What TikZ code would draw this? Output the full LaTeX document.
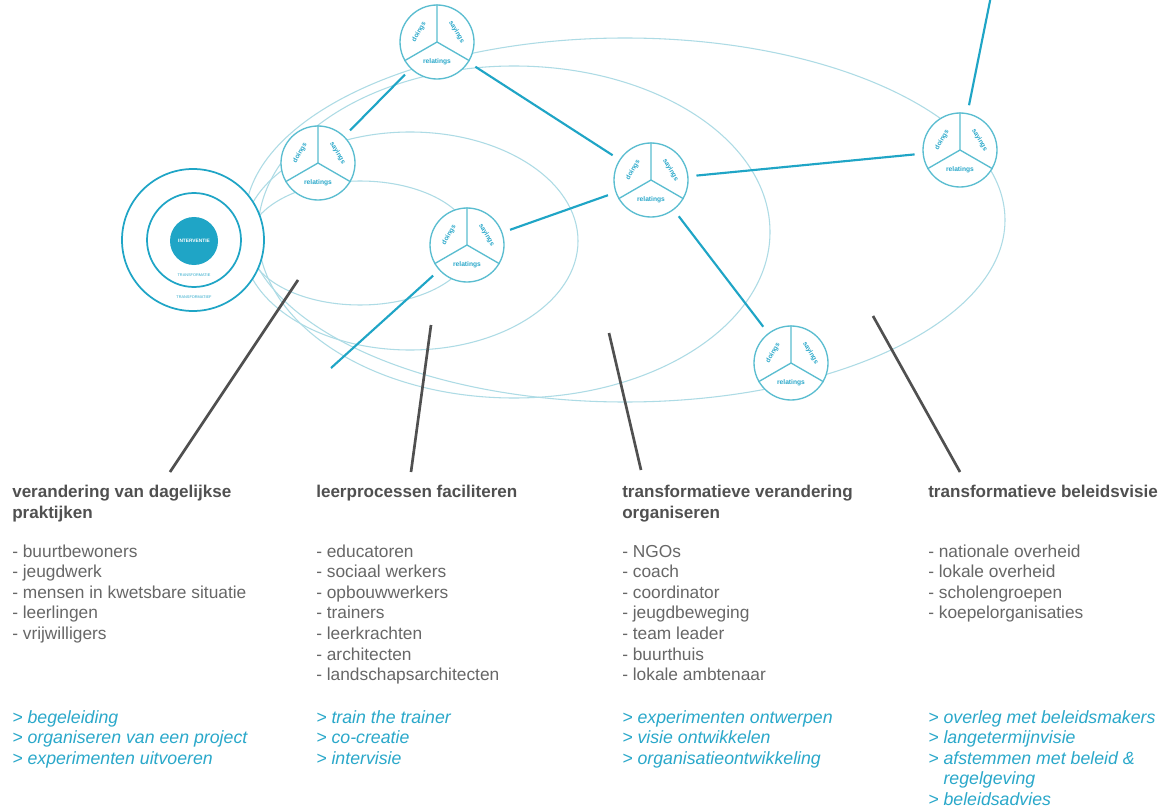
\documentclass[tikz,border=0pt]{standalone}
\usepackage{fontspec}
\setmainfont{Liberation Sans}
\definecolor{tealA}{HTML}{1FA5C6}
\definecolor{tealB}{HTML}{5ABDD0}
\definecolor{tealC}{HTML}{ADDBE5}
\definecolor{tealT}{HTML}{2AA8CA}
\definecolor{grayH}{HTML}{505050}
\definecolor{grayL}{HTML}{676767}
\definecolor{grayLine}{HTML}{505050}
\newcommand{\tricircle}[3]{%
  \node[tri] (#1) at (#2,#3) {};
  \draw[triline] (#1.center) -- (#1.90) (#1.center) -- (#1.210) (#1.center) -- (#1.330);
  \node[trilabel, rotate=60] (#1-d) at (#2-18,#3-10) {doings};
  \node[trilabel, rotate=-60] (#1-s) at (#2+19.5,#3-10) {sayings};
  \node[trilabel] (#1-r) at (#2,#3+20) {relatings};
}
\begin{document}
\begin{tikzpicture}[x=0.75pt,y=-0.75pt,
  ell/.style={draw=tealC, line width=0.8pt},
  tri/.style={circle, draw=tealB, line width=1pt, fill=white, minimum size=55.5pt, inner sep=0pt},
  triline/.style={draw=tealB, line width=1pt},
  trilabel/.style={text=tealT, font=\bfseries\fontsize{5}{6}\selectfont, inner sep=0pt},
  conn/.style={draw=tealA, line width=1.6pt, shorten <=6pt, shorten >=6pt},
  pointer/.style={draw=grayLine, line width=2pt},
  head/.style={anchor=base west, inner sep=0pt, text=grayH, font=\bfseries\fontsize{12.8}{15}\selectfont},
  listtxt/.style={anchor=base west, inner sep=0pt, text=grayL, font=\fontsize{13}{15}\selectfont},
  acttxt/.style={anchor=base west, inner sep=0pt, text=tealT, font=\itshape\fontsize{13.3}{15}\selectfont}
]
\useasboundingbox (0,0) rectangle (1169,809);
\fill[white] (0,0) rectangle (1169,809);

% nested ellipses
\draw[ell] (625,220) ellipse [x radius=285pt, y radius=136.5pt];
\draw[ell] (514,232) ellipse [x radius=192pt, y radius=124.5pt];
\draw[ell] (410,241) ellipse [x radius=126pt, y radius=81.75pt];
\draw[ell] (360,243) ellipse [x radius=84pt, y radius=46.5pt];

% intervention circle
\node[circle, draw=tealA, line width=1.3pt, fill=white, minimum size=106.5pt, inner sep=0pt] (outer) at (193,240) {};
\node[circle, draw=tealA, line width=1.3pt, fill=white, minimum size=70.5pt, inner sep=0pt] (middle) at (194,240) {};
\node[circle, fill=tealA, minimum size=36pt, inner sep=0pt, text=white, font=\bfseries\fontsize{3.6}{4}\selectfont] (inner) at (194,241) {INTERVENTIE};
\node[text=tealT, font=\fontsize{2.9}{3}\selectfont, inner sep=0pt] (tlabel1) at (194,275) {TRANSFORMATIE};
\node[text=tealT, font=\fontsize{2.9}{3}\selectfont, inner sep=0pt] (tlabel2) at (194,297) {TRANSFORMATIEF};

% practice circles
\tricircle{c1}{437}{42}
\tricircle{c2}{318}{163}
\tricircle{c3}{651}{180}
\tricircle{c4}{467}{245}
\tricircle{c5}{960}{150}
\tricircle{c6}{791}{363}

% connectors
\coordinate (topend) at (991,-4);
\coordinate (lowend) at (331,368);
\draw[conn] (c1) -- (c2);
\draw[conn] (c1) -- (c3);
\draw[conn] (c3) -- (c4);
\draw[conn] (c3) -- (c5);
\draw[conn] (c3) -- (c6);
\draw[conn, shorten >=0pt] (c5) -- (topend);
\draw[conn, shorten >=0pt] (c4) -- (lowend);

% pointers
\coordinate (p1a) at (298,280); \coordinate (p1b) at (170,472);
\coordinate (p2a) at (431,325); \coordinate (p2b) at (411,472);
\coordinate (p3a) at (609,333); \coordinate (p3b) at (641,470);
\coordinate (p4a) at (873,316); \coordinate (p4b) at (960,472);
\draw[pointer] (p1a) -- (p1b);
\draw[pointer] (p2a) -- (p2b);
\draw[pointer] (p3a) -- (p3b);
\draw[pointer] (p4a) -- (p4b);

% column 1
\node[head] (h1a) at (12,497) {verandering van dagelijkse};
\node[head] (h1b) at (12,518) {praktijken};
\foreach \t [count=\i] in {buurtbewoners, jeugdwerk, mensen in kwetsbare situatie, leerlingen, vrijwilligers}
  \node[listtxt] (l1-\i) at (12,536.4+20.6*\i) {- \t};
\foreach \t [count=\i] in {begeleiding, organiseren van een project, experimenten uitvoeren}
  \node[acttxt] (a1-\i) at (12,702.5+20.5*\i) {> \t};

% column 2
\node[head] (h2a) at (316,497) {leerprocessen faciliteren};
\foreach \t [count=\i] in {educatoren, sociaal werkers, opbouwwerkers, trainers, leerkrachten, architecten, landschapsarchitecten}
  \node[listtxt] (l2-\i) at (316,536.4+20.6*\i) {- \t};
\foreach \t [count=\i] in {train the trainer, co-creatie, intervisie}
  \node[acttxt] (a2-\i) at (316,702.5+20.5*\i) {> \t};

% column 3
\node[head] (h3a) at (622,497) {transformatieve verandering};
\node[head] (h3b) at (622,518) {organiseren};
\foreach \t [count=\i] in {NGOs, coach, coordinator, jeugdbeweging, team leader, buurthuis, lokale ambtenaar}
  \node[listtxt] (l3-\i) at (622,536.4+20.6*\i) {- \t};
\foreach \t [count=\i] in {experimenten ontwerpen, visie ontwikkelen, organisatieontwikkeling}
  \node[acttxt] (a3-\i) at (622,702.5+20.5*\i) {> \t};

% column 4
\node[head] (h4a) at (928,497) {transformatieve beleidsvisie};
\foreach \t [count=\i] in {nationale overheid, lokale overheid, scholengroepen, koepelorganisaties}
  \node[listtxt] (l4-\i) at (928,536.4+20.6*\i) {- \t};
\foreach \t [count=\i] in {{> overleg met beleidsmakers}, {> langetermijnvisie}, {> afstemmen met beleid \&}, {\phantom{> }regelgeving}, {> beleidsadvies}}
  \node[acttxt] (a4-\i) at (928,702.5+20.5*\i) {\t};
\end{tikzpicture}
\end{document}
